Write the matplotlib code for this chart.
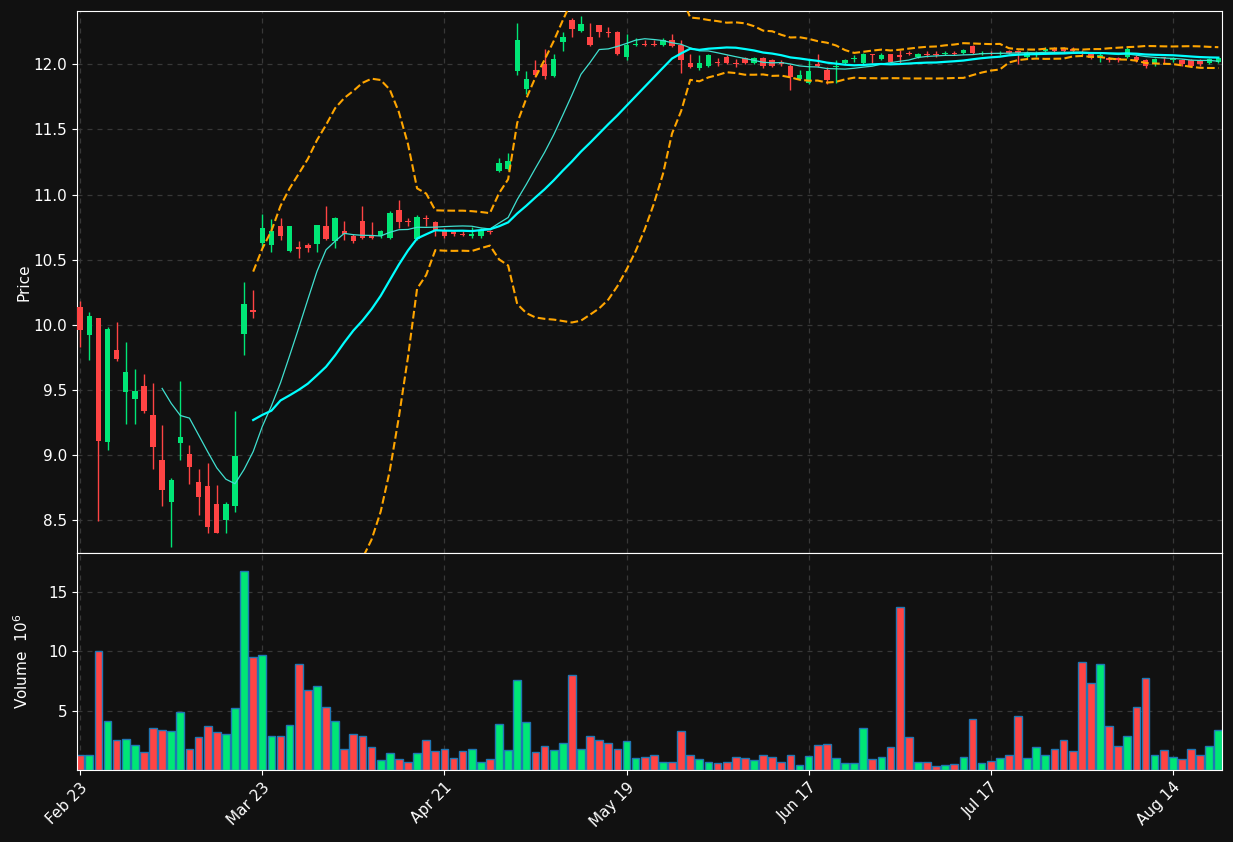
import numpy as np
import pandas as pd
import matplotlib
matplotlib.use("Agg")
import matplotlib.pyplot as plt

opens = [10.14,9.92,10.05,9.10,9.81,9.48,9.43,9.53,9.31,8.96,8.64,9.09,9.01,8.79,8.76,8.62,8.50,8.61,9.93,10.11,
         10.63,10.61,10.76,10.57,10.60,10.61,10.62,10.76,10.64,10.72,10.68,10.80,10.68,10.68,10.67,10.88,10.80,10.66,10.82,10.79,
         10.73,10.71,10.70,10.68,10.68,10.72,11.18,11.20,11.95,11.81,11.96,12.00,11.91,12.17,12.34,12.26,12.21,12.30,12.25,12.25,
         12.06,12.15,12.16,12.16,12.15,12.19,12.15,12.01,11.97,11.99,12.02,12.06,12.01,12.05,12.01,12.05,12.03,12.02,11.99,11.89,
         11.86,12.00,11.96,11.98,12.01,12.04,12.01,12.08,12.04,12.08,12.07,12.09,12.06,12.08,12.08,12.08,12.09,12.09,12.14,12.08,
         12.09,12.08,12.10,12.10,12.06,12.08,12.10,12.12,12.12,12.12,12.09,12.09,12.06,12.05,12.05,12.06,12.06,12.03,12.00,12.06,
         12.03,12.03,12.03,12.03,12.01,12.02]
closes = [9.96,10.07,9.11,9.97,9.74,9.64,9.49,9.34,9.06,8.73,8.81,9.14,8.91,8.68,8.45,8.40,8.62,8.99,10.16,10.10,
          10.74,10.72,10.68,10.76,10.58,10.59,10.77,10.66,10.82,10.70,10.64,10.67,10.67,10.72,10.86,10.79,10.79,10.83,10.81,10.72,
          10.68,10.70,10.69,10.70,10.73,10.71,11.24,11.26,12.19,11.89,11.92,11.91,12.04,12.21,12.27,12.31,12.15,12.25,12.24,12.08,
          12.15,12.16,12.15,12.15,12.19,12.14,12.03,11.98,12.01,12.07,12.01,12.01,12.00,12.01,12.05,11.99,11.99,12.00,11.90,11.92,
          11.95,11.99,11.88,11.99,12.03,12.05,12.08,12.07,12.07,12.02,12.06,12.08,12.08,12.07,12.07,12.09,12.08,12.11,12.09,12.09,
          12.08,12.09,12.09,12.09,12.09,12.08,12.12,12.10,12.10,12.10,12.08,12.05,12.07,12.03,12.03,12.12,12.03,11.99,12.04,12.05,
          12.05,12.00,11.99,12.00,12.04,12.05]
highs = [10.18,10.10,10.05,9.98,10.02,9.87,9.66,9.62,9.55,9.23,8.82,9.57,9.08,8.89,8.94,8.77,8.64,9.34,10.33,10.27,
         10.85,10.81,10.82,10.76,10.64,10.63,10.77,10.91,10.83,10.80,10.70,10.91,10.79,10.73,10.87,10.96,10.82,10.84,10.84,10.80,
         10.74,10.73,10.72,10.75,10.74,10.73,11.28,11.32,12.32,11.95,12.03,12.12,12.08,12.25,12.36,12.37,12.32,12.30,12.29,12.26,
         12.23,12.20,12.19,12.19,12.20,12.23,12.19,12.08,12.07,12.08,12.05,12.07,12.04,12.06,12.06,12.06,12.04,12.03,12.00,11.96,
         12.04,12.08,11.98,12.03,12.04,12.07,12.09,12.08,12.09,12.08,12.11,12.10,12.09,12.10,12.10,12.10,12.10,12.12,12.15,12.10,
         12.10,12.10,12.11,12.11,12.10,12.10,12.13,12.13,12.13,12.13,12.11,12.09,12.09,12.06,12.06,12.13,12.07,12.04,12.05,12.06,
         12.06,12.04,12.04,12.04,12.05,12.06]
lows = [9.83,9.73,8.49,9.04,9.72,9.24,9.24,9.32,8.89,8.61,8.29,8.96,8.78,8.54,8.40,8.40,8.40,8.56,9.77,10.05,
        10.60,10.56,10.65,10.56,10.51,10.56,10.56,10.65,10.59,10.65,10.63,10.66,10.66,10.67,10.66,10.74,10.76,10.65,10.76,10.68,
        10.67,10.68,10.68,10.67,10.67,10.70,11.17,11.19,11.92,11.77,11.90,11.89,11.90,12.10,12.21,12.25,12.14,12.21,12.21,12.07,
        12.03,12.14,12.14,12.14,12.14,12.13,11.93,11.97,11.96,11.98,11.99,12.00,11.98,12.00,12.00,11.97,11.98,11.99,11.80,11.88,
        11.85,11.98,11.85,11.86,12.00,12.02,12.00,12.01,12.03,12.01,12.01,12.07,12.05,12.06,12.06,12.07,12.07,12.08,12.08,12.07,
        12.07,12.07,12.08,12.00,12.05,12.06,12.09,12.09,12.09,12.09,12.07,12.04,12.02,12.02,12.02,12.05,12.02,11.97,11.99,12.00,
        12.02,11.99,11.98,11.99,12.00,12.01]
volumes = [1.3,1.3,10.0,4.1,2.5,2.6,2.1,1.5,3.5,3.4,3.3,4.9,1.8,2.8,3.7,3.2,3.0,5.2,16.7,9.5,
           9.7,2.9,2.9,3.8,8.9,6.7,7.1,5.3,4.1,1.8,3.0,2.9,1.9,0.8,1.4,0.9,0.7,1.4,2.5,1.6,
           1.8,1.0,1.6,1.75,0.65,0.9,3.9,1.7,7.6,4.0,1.5,2.0,1.7,2.3,8.0,1.75,2.9,2.5,2.3,1.8,
           2.4,1.0,1.1,1.3,0.7,0.65,3.3,1.25,0.9,0.65,0.55,0.65,1.1,1.0,0.8,1.3,1.1,0.7,1.25,0.4,
           1.15,2.1,2.2,1.0,0.55,0.55,3.5,0.9,1.1,1.9,13.7,2.8,0.65,0.65,0.3,0.4,0.5,1.1,4.3,0.55,
           0.75,1.0,1.3,4.5,1.0,1.9,1.3,1.8,2.5,1.6,9.1,7.3,8.9,3.7,2.0,2.85,5.3,7.7,1.3,1.7,
           1.1,0.9,1.8,1.3,2.0,3.4]
tick_pos = [0, 20, 40, 60, 80, 100, 120]
tick_labels = ["Feb 23", "Mar 23", "Apr 21", "May 19", "Jun 17", "Jul 17", "Aug 14"]

n = len(closes)
x = np.arange(n)
o = np.array(opens); c = np.array(closes); h = np.array(highs); l = np.array(lows)
cs = pd.Series(c)
ma10 = cs.rolling(10).mean()
ma20 = cs.rolling(20).mean()
sd20 = cs.rolling(20).std(ddof=0)
bb_up = ma20 + 2 * sd20
bb_lo = ma20 - 2 * sd20

BG = "#111111"
UP = "#00e676"; DN = "#ff4444"
fig = plt.figure(figsize=(12.33, 8.42), dpi=100, facecolor=BG)
W, H = 1233, 842
ax1 = fig.add_axes([77/W, 1-553/H, (1222-77)/W, (553-11)/H])
ax2 = fig.add_axes([77/W, 1-770/H, (1222-77)/W, (770-553)/H], sharex=ax1)
for ax in (ax1, ax2):
    ax.set_facecolor(BG)
    for s in ax.spines.values():
        s.set_color("white")
    ax.tick_params(colors="white", labelsize=11)
    ax.grid(True, color="#383838", linestyle=(0, (4, 4)), linewidth=0.9)
    ax.set_axisbelow(True)

cols = np.where(c >= o, UP, DN)
ax1.vlines(x, l, h, colors=cols, linewidth=1, zorder=2)
ax1.bar(x, np.maximum(np.abs(c - o), 0.006), bottom=np.minimum(o, c), width=0.6, color=cols, zorder=3)
ax1.plot(x, ma10, color="#40e0d0", linewidth=0.9, zorder=4)
ax1.plot(x, ma20, color="#00ffff", linewidth=1.6, zorder=4)
ax1.plot(x, bb_up, color="orange", linestyle="--", linewidth=1.5, zorder=4)
ax1.plot(x, bb_lo, color="orange", linestyle="--", linewidth=1.5, zorder=4)
ax1.set_ylim(8.247, 12.41)
ax1.set_yticks([8.5, 9.0, 9.5, 10.0, 10.5, 11.0, 11.5, 12.0])
ax1.set_ylabel("Price", color="white", fontsize=11)
ax1.tick_params(axis="x", labelbottom=False, length=0)

ax2.bar(x, volumes, width=0.85, color=cols, edgecolor="#1f77b4", linewidth=1)
ax2.set_ylim(0, 18.25)
ax2.set_yticks([5, 10, 15])
ax2.set_ylabel("Volume  $10^6$", color="white", fontsize=11)
ax2.set_xlim(-0.35, n - 0.6)
ax2.set_xticks(tick_pos)
ax2.set_xticklabels(tick_labels, rotation=45, ha="right", rotation_mode="anchor")
ax1.yaxis.set_label_coords(-0.04, 0.5)
ax2.yaxis.set_label_coords(-0.04, 0.5)

fig.savefig("out.png", dpi=100, facecolor=BG)
